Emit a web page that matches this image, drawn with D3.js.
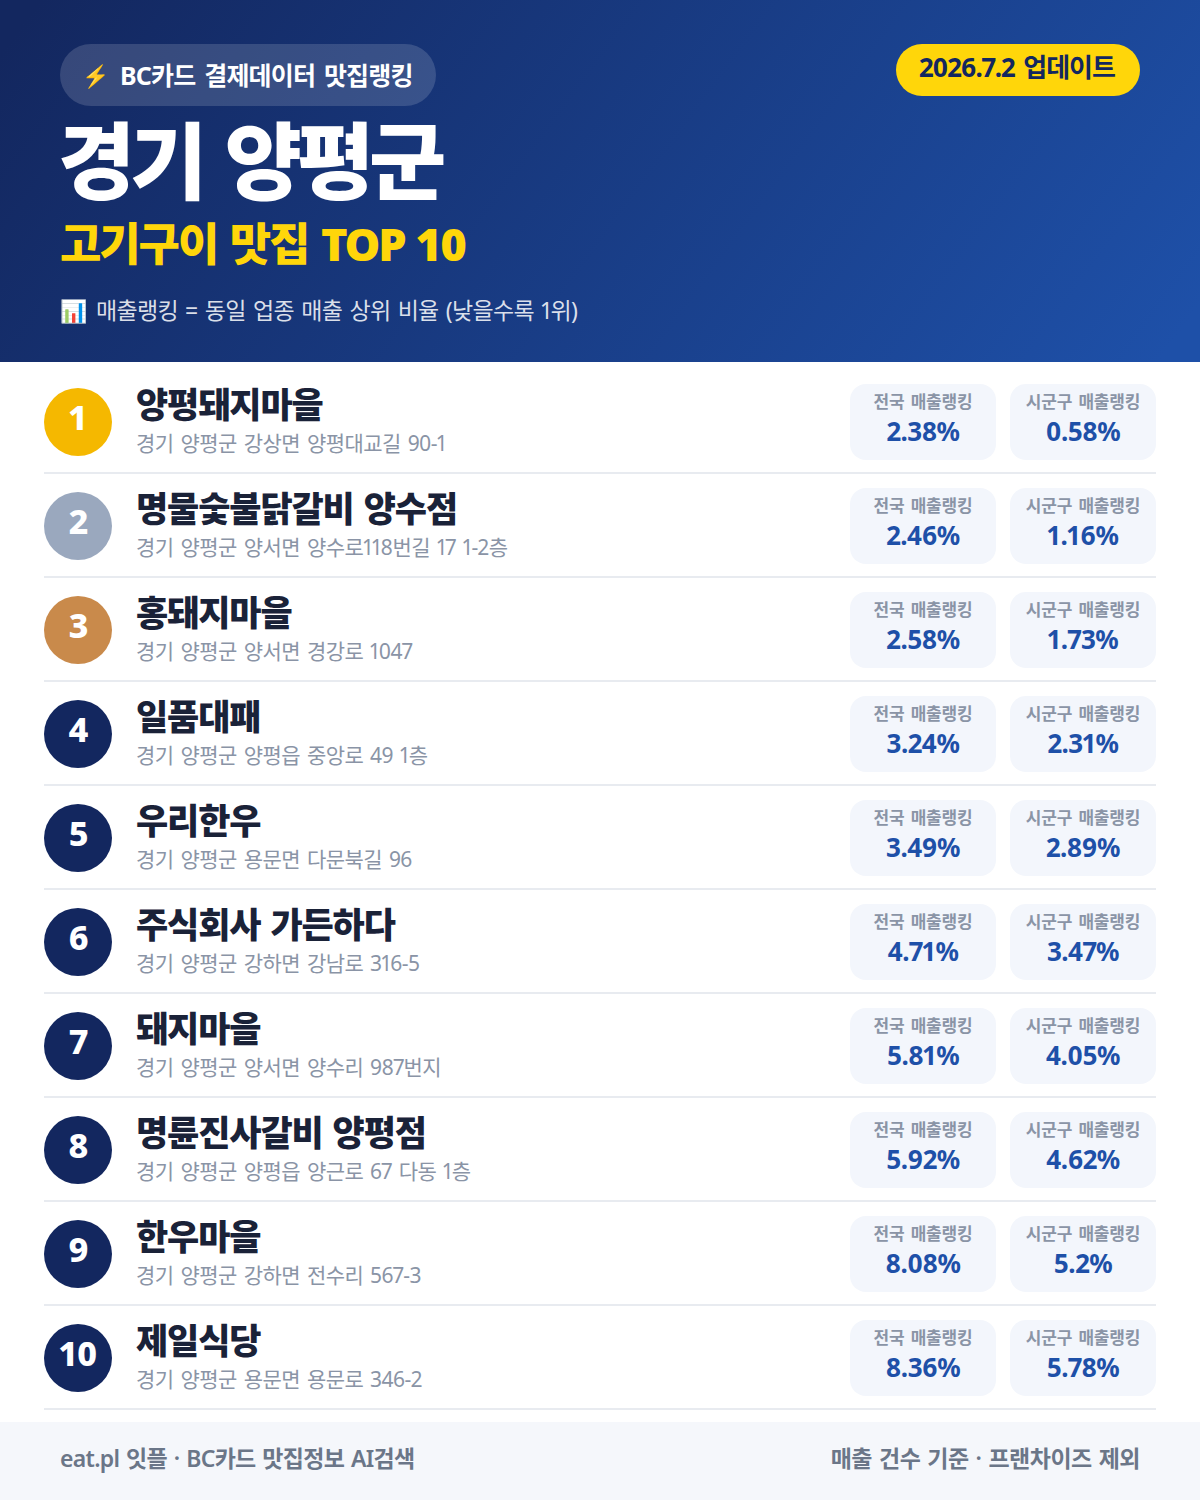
<!DOCTYPE html>
<html>
<head>
<meta charset="utf-8">
<script src="https://d3js.org/d3.v7.min.js"></script>
<style>
body { margin: 0; background: #fff; }
svg { display: block; font-family: "Noto Sans", "Noto Sans CJK KR", sans-serif; font-variant-numeric: proportional-nums; }
</style>
</head>
<body>
<div id="chart"></div>
<script>
// Data
var ranks = [1, 2, 3, 4, 5, 6, 7, 8, 9, 10];
var names = ["양평돼지마을", "명물숯불닭갈비 양수점", "홍돼지마을", "일품대패", "우리한우", "주식회사 가든하다", "돼지마을", "명륜진사갈비 양평점", "한우마을", "제일식당"];
var addresses = ["경기 양평군 강상면 양평대교길 90-1", "경기 양평군 양서면 양수로118번길 17 1-2층", "경기 양평군 양서면 경강로 1047", "경기 양평군 양평읍 중앙로 49 1층", "경기 양평군 용문면 다문북길 96", "경기 양평군 강하면 강남로 316-5", "경기 양평군 양서면 양수리 987번지", "경기 양평군 양평읍 양근로 67 다동 1층", "경기 양평군 강하면 전수리 567-3", "경기 양평군 용문면 용문로 346-2"];
var national = ["2.38%", "2.46%", "2.58%", "3.24%", "3.49%", "4.71%", "5.81%", "5.92%", "8.08%", "8.36%"];
var district = ["0.58%", "1.16%", "1.73%", "2.31%", "2.89%", "3.47%", "4.05%", "4.62%", "5.2%", "5.78%"];

var w = 1200;
var h = 1500;
var rowH = 104;

var svg = d3.select("#chart").append("svg").attr("width", w).attr("height", h);

// Header gradient
var grad = svg.append("defs").append("linearGradient")
    .attr("id", "headerGrad")
    .attr("gradientUnits", "userSpaceOnUse")
    .attr("x1", 150).attr("y1", -150).attr("x2", 1050).attr("y2", 510);
grad.append("stop").attr("offset", "0%").attr("stop-color", "#13275f");
grad.append("stop").attr("offset", "100%").attr("stop-color", "#1e50a8");

svg.append("rect").attr("width", w).attr("height", 362).attr("fill", "url(#headerGrad)");

svg.append("rect").attr("x", 60).attr("y", 44).attr("width", 376).attr("height", 62).attr("rx", 31)
    .attr("fill", "#fff").attr("fill-opacity", 0.15);
svg.append("text").attr("x", 82).attr("y", 84).attr("font-size", 22).text("⚡");
svg.append("text").attr("x", 120).attr("y", 85).attr("font-size", 25).attr("font-weight", 700)
    .attr("letter-spacing", -0.8).attr("word-spacing", 3).attr("fill", "#fff").text("BC카드 결제데이터 맛집랭킹");

svg.append("rect").attr("x", 896).attr("y", 44).attr("width", 244).attr("height", 52).attr("rx", 26).attr("fill", "#ffd60a");
svg.append("text").attr("x", 1017).attr("y", 77).attr("text-anchor", "middle").attr("font-size", 26).attr("font-weight", 700)
    .attr("letter-spacing", -1).attr("word-spacing", 3).attr("fill", "#13275f").text("2026.7.2 업데이트");

svg.append("text").attr("x", 58).attr("y", 193).attr("font-size", 84).attr("font-weight", 900)
    .attr("letter-spacing", -5.2).attr("word-spacing", 6).attr("fill", "#fff").text("경기 양평군");
svg.append("text").attr("x", 60).attr("y", 261).attr("font-size", 45).attr("font-weight", 900)
    .attr("letter-spacing", -2.1).attr("word-spacing", 3).attr("fill", "#ffd60a").text("고기구이 맛집 TOP 10");
svg.append("text").attr("x", 60).attr("y", 319).attr("font-size", 22).text("📊");
svg.append("text").attr("x", 96).attr("y", 319).attr("font-size", 23).attr("fill", "#fff").attr("fill-opacity", 0.85)
    .attr("letter-spacing", -0.7).attr("word-spacing", 2).text("매출랭킹 = 동일 업종 매출 상위 비율 (낮을수록 1위)");

// Rows
var rowColor = d3.scaleOrdinal().domain([1, 2, 3]).range(["#f5b800", "#9aa8be", "#c98a4b"]).unknown("#13275f");
var rowY = d3.scaleBand().domain(ranks).range([370, 370 + rowH * ranks.length]);

var rows = svg.selectAll("g.row").data(ranks).enter().append("g")
    .attr("class", "row")
    .attr("transform", d => `translate(0, ${rowY(d)})`);

rows.append("line").attr("x1", 44).attr("x2", 1156).attr("y1", 103).attr("y2", 103)
    .attr("stroke", "#e8ebf0").attr("stroke-width", 2);
rows.append("circle").attr("cx", 78).attr("cy", 52).attr("r", 34).attr("fill", d => rowColor(d));
rows.append("text").attr("x", 78).attr("y", 60).attr("text-anchor", "middle").attr("font-size", 34).attr("font-weight", 800)
    .attr("letter-spacing", -1).attr("fill", "#fff").text(d => d);
rows.append("text").attr("x", 136).attr("y", 48).attr("font-size", 35).attr("font-weight", 900)
    .attr("letter-spacing", -1.1).attr("word-spacing", 2).attr("fill", "#1a2238").text((d, i) => names[i]);
rows.append("text").attr("x", 136).attr("y", 81).attr("font-size", 21)
    .attr("letter-spacing", -0.55).attr("word-spacing", 2).attr("fill", "#8a94a6").text((d, i) => addresses[i]);

function drawBox(x, label, values) {
    rows.append("rect").attr("x", x).attr("y", 14).attr("width", 146).attr("height", 76).attr("rx", 16).attr("fill", "#f3f6fc");
    rows.append("text").attr("x", x + 73).attr("y", 38).attr("text-anchor", "middle").attr("font-size", 17).attr("font-weight", 700)
        .attr("letter-spacing", -0.2).attr("word-spacing", 2).attr("fill", "#8a94a6").text(label);
    rows.append("text").attr("x", x + 73).attr("y", 71).attr("text-anchor", "middle").attr("font-size", 26).attr("font-weight", 700)
        .attr("letter-spacing", -0.5).attr("fill", "#1e50a8").text((d, i) => values[i]);
}
drawBox(850, "전국 매출랭킹", national);
drawBox(1010, "시군구 매출랭킹", district);

// Footer
svg.append("rect").attr("y", 1422).attr("width", w).attr("height", 78).attr("fill", "#f5f7fb");
svg.append("text").attr("x", 60).attr("y", 1467).attr("font-size", 23).attr("font-weight", 600)
    .attr("letter-spacing", -0.7).attr("word-spacing", 1.5).attr("fill", "#6b7688").text("eat.pl 잇플 · BC카드 맛집정보 AI검색");
svg.append("text").attr("x", 1140).attr("y", 1467).attr("text-anchor", "end").attr("font-size", 23).attr("font-weight", 600)
    .attr("letter-spacing", -0.5).attr("word-spacing", 1.5).attr("fill", "#6b7688").text("매출 건수 기준 · 프랜차이즈 제외");
</script>
</body>
</html>
